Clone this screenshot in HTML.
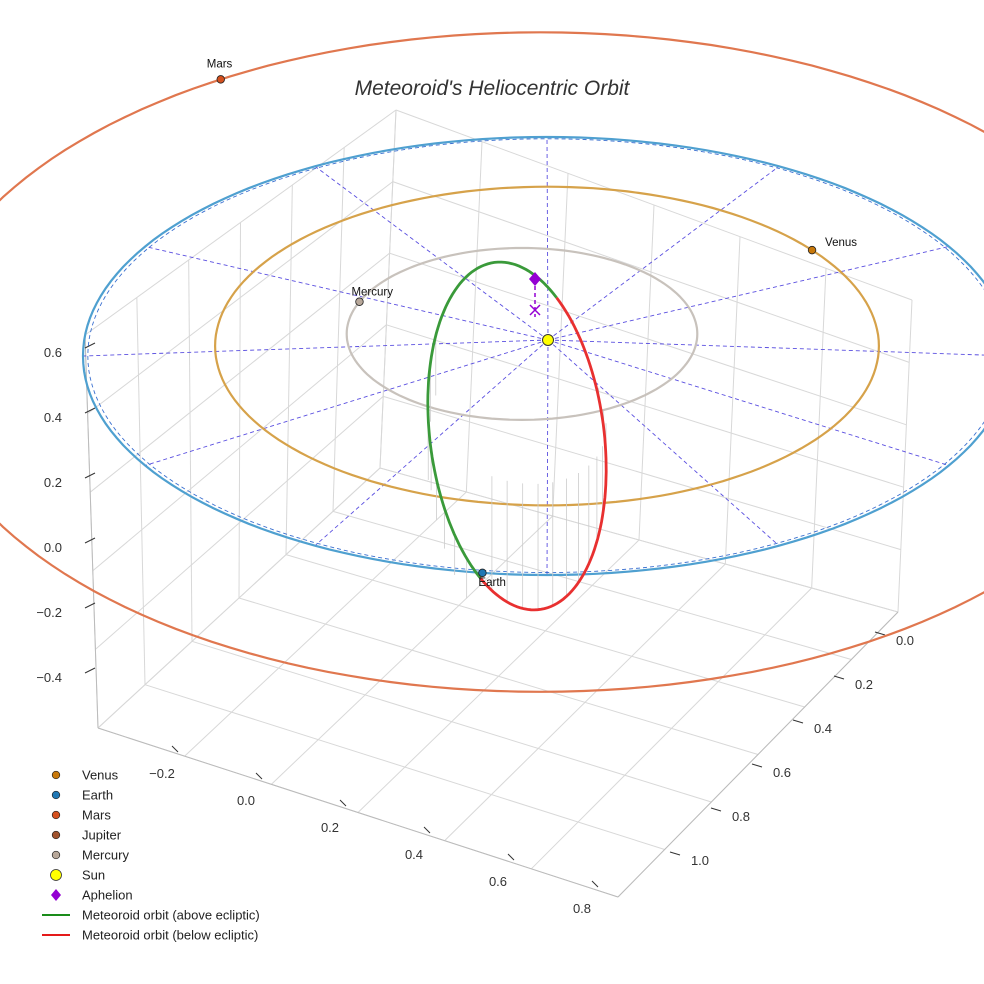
<!DOCTYPE html>
<html><head><meta charset="utf-8"><style>
html,body{margin:0;padding:0;background:#fff;}
svg{display:block;font-family:"Liberation Sans",sans-serif;}
</style></head><body>
<svg id="chart" width="984" height="984" viewBox="0 0 984 984" xmlns="http://www.w3.org/2000/svg">
<text x="492" y="95" text-anchor="middle" font-size="21" font-style="italic" fill="#333">Meteoroid's Heliocentric Orbit</text>
<g id="grid"></g>
<g id="marks"></g>
<g id="legend"></g>
</svg>
<script>
// ---- data ----
const planetNames = ["Venus","Earth","Mars","Jupiter","Mercury"];
const planetOrbitRadius = [0.723, 1.0, 1.524, 5.2, 0.387];
const planetAngleDeg = [-37, 98, -121, 0, -158];
const planetColors = ["#c8780a","#1f77b4","#d4501e","#a0522d","#b8a89a"];
const orbitColors = ["#d6a24a","#4fa0d0","#e0774f","#a0522d","#c8c2bc"];
const verticalTicks = [0.6,0.4,0.2,0.0,-0.2,-0.4];
const xTicks = [-0.2,0.0,0.2,0.4,0.6,0.8];
const yTicks = [0.0,0.2,0.4,0.6,0.8,1.0];
const meteoroidSemiMajor = [175];
const meteoroidSemiMinor = [87];
const meteoroidTiltDeg = [7.4];
const meteoroidNodeDeg = [139];
const meteoroidEarthDeg = [-39];
const aphelionHeight = [0.1];
const rayAnglesDeg = [0,30,60,90,120,150,180,210,240,270,300,330];

// ---- projection ----
const SUN = {x:548, y:340};
function cxOf(a){ return a<0.5 ? 522 : 547 - Math.max(0,a-1)*13; }
function cyOf(a){ return a<=1 ? 320+36*a : 356+11.5*(a-1); }
function rxOf(a){ return a<=1 ? 446+18*a : 464-108.8*(a-1); }
function ryOf(a){ return 224-5*a; }
function projOrbit(a, tDeg){
  const t=tDeg*Math.PI/180;
  return {x: cxOf(a) + rxOf(a)*a*Math.cos(t), y: cyOf(a) + ryOf(a)*a*Math.sin(t)};
}
function zToY(z){ return 547 - (z)*(547-352)/0.6; }
function xTickPos(v){ return {x:246 + (v)*(330-246)/0.2, y:805 + v*(832-805)/0.2}; }
function yTickPos(v){ return {x:905 - v*(905-864)/0.2, y:640 + v*(684-640)/0.2}; }

const NS="http://www.w3.org/2000/svg";
function el(tag, attrs, parent){
  const e=document.createElementNS(NS,tag);
  for(const k in attrs) e.setAttribute(k, attrs[k]);
  parent.appendChild(e); return e;
}
const grid=document.getElementById('grid');
const marks=document.getElementById('marks');
const legend=document.getElementById('legend');

// ---- panes / grid ----
const A={x:98,y:728}, B={x:618,y:897}, C={x:898,y:612}, D={x:380,y:468};
const At={x:85,y:335}, Dt={x:396,y:110}, Ct={x:912,y:300};
function lerp(p,q,f){return {x:p.x+(q.x-p.x)*f, y:p.y+(q.y-p.y)*f};}
function gl(p,q,c,w){ const l=el('line',{x1:p.x,y1:p.y,x2:q.x,y2:q.y,stroke:c||'#d8d8d8','stroke-width':w||1},grid);
  }
for(let i=0;i<=6;i++){ const f=i/6; gl(lerp(A,B,f),lerp(D,C,f)); gl(lerp(A,D,f),lerp(B,C,f)); }
for(let i=0;i<=6;i++){ const f=i/6; gl(lerp(A,D,f),lerp(At,Dt,f)); gl(lerp(D,C,f),lerp(Dt,Ct,f)); }
for(let i=0;i<=5;i++){ const f=i/5; gl(lerp(A,At,f),lerp(D,Dt,f)); gl(lerp(D,Dt,f),lerp(C,Ct,f)); }
gl(A,B,'#bbb'); gl(B,C,'#bbb'); gl(A,At,'#bbb');

// ---- tick labels ----
verticalTicks.forEach(v=>{
  const y=zToY(v);
  const t=el('text',{x:62,y:y+5,'text-anchor':'end','font-size':13,fill:'#333'},grid);
   
  t.textContent=(v<0?'\u2212'+Math.abs(v).toFixed(1):v.toFixed(1));
  const m=el('line',{x1:85,y1:y-4,x2:95,y2:y-9,stroke:'#333','stroke-width':1},grid);
   
});
xTicks.forEach(v=>{
  const p=xTickPos(v);
  const t=el('text',{x:p.x,y:p.y,'text-anchor':'middle','font-size':13,fill:'#333'},grid);
   
  t.textContent=(v<0?'\u2212'+Math.abs(v).toFixed(1):v.toFixed(1));
  const m=el('line',{x1:p.x+10,y1:p.y-32,x2:p.x+16,y2:p.y-26,stroke:'#333'},grid);
   
});
yTicks.forEach(v=>{
  const p=yTickPos(v);
  const t=el('text',{x:p.x,y:p.y+5,'text-anchor':'middle','font-size':13,fill:'#333'},grid);
   
  t.textContent=v.toFixed(1);
  const m=el('line',{x1:p.x-30,y1:p.y-8,x2:p.x-20,y2:p.y-5,stroke:'#333'},grid);
   
});

// ---- rays ----
rayAnglesDeg.forEach(a=>{
  const p=projOrbit(1.0,a);
  const l=el('line',{x1:SUN.x,y1:SUN.y,x2:p.x,y2:p.y,stroke:'#5a4fe0','stroke-width':0.9,'stroke-dasharray':'4,3'},marks);
   
});

// ---- orbits ----
function orbitPath(a){
  let d='';
  for(let t=0;t<=360;t+=2){const p=projOrbit(a,t); d+=(t?'L':'M')+p.x.toFixed(1)+','+p.y.toFixed(1);}
  return d+'Z';
}
planetNames.forEach((n,i)=>{
  if(n==='Jupiter') return;
  const o=el('path',{d:orbitPath(planetOrbitRadius[i]),fill:'none',stroke:orbitColors[i],'stroke-width':2.2},marks);
   
});
const eo=el('path',{d:orbitPath(0.99),fill:'none',stroke:'#3a6fd0','stroke-width':0.9,'stroke-dasharray':'4,3'},marks);
 

// ---- meteoroid orbit ----
const MC={x:517,y:436};
function met(tDeg){
  const t=tDeg*Math.PI/180, k=meteoroidTiltDeg[0]*Math.PI/180;
  const u={x:Math.sin(k),y:Math.cos(k)}, v={x:Math.cos(k),y:-Math.sin(k)};
  const a=meteoroidSemiMajor[0]*Math.cos(t), b=meteoroidSemiMinor[0]*Math.sin(t);
  return {x:MC.x+a*u.x+b*v.x, y:MC.y+a*u.y+b*v.y};
}
for(let t=meteoroidEarthDeg[0]-10; t>meteoroidNodeDeg[0]-360; t-=10){
  const p=met(t); if(p.y<330) continue;
  const l=el('line',{x1:p.x,y1:p.y,x2:p.x,y2:p.y+ (p.y<450?60:40),stroke:'#ccc','stroke-width':0.8},marks);
   
}
for(let t=meteoroidNodeDeg[0]-10; t>meteoroidEarthDeg[0]; t-=10){
  const p=met(t); if(p.y<380) continue;
  const l=el('line',{x1:p.x,y1:p.y,x2:p.x,y2:p.y-Math.max(10,(p.y-400)*0.6),stroke:'#ccc','stroke-width':0.8},marks);
   
}
function metPath(t0,t1){
  let d='', n=80;
  for(let i=0;i<=n;i++){const p=met(t0+(t1-t0)*i/n); d+=(i?'L':'M')+p.x.toFixed(1)+','+p.y.toFixed(1);}
  return d;
}
const g1=el('path',{d:metPath(meteoroidEarthDeg[0],meteoroidNodeDeg[0]-360),fill:'none',stroke:'#3a9a3a','stroke-width':2.8},marks);
 
const r1=el('path',{d:metPath(meteoroidNodeDeg[0],meteoroidEarthDeg[0]),fill:'none',stroke:'#e83030','stroke-width':2.8},marks);
 

// ---- aphelion ----
const apTop=zToY(0.6+aphelionHeight[0]*0)-73, apX=535;
const ad=el('line',{x1:apX,y1:apTop,x2:apX,y2:apTop+38,stroke:'#9400d3','stroke-width':1.5,'stroke-dasharray':'4,3'},marks);
 
const ax=el('path',{d:`M${apX-5},${apTop+26}L${apX+5},${apTop+36}M${apX+5},${apTop+26}L${apX-5},${apTop+36}`,stroke:'#9400d3','stroke-width':1.5},marks);
 
const am=el('path',{d:`M${apX},${apTop-7}L${apX+6},${apTop}L${apX},${apTop+7}L${apX-6},${apTop}Z`,fill:'#9400d3'},marks);
 

// ---- sun ----
const sun=el('circle',{cx:SUN.x,cy:SUN.y,r:5.5,fill:'#ffff00',stroke:'#333','stroke-width':1},marks);
 

// ---- planets ----
planetNames.forEach((n,i)=>{
  if(n==='Jupiter') return;
  const p=projOrbit(planetOrbitRadius[i],planetAngleDeg[i]);
  const c=el('circle',{cx:p.x,cy:p.y,r:3.8,fill:planetColors[i],stroke:'#222','stroke-width':0.8},marks);
   
  const off = n==='Earth'?{dx:-4,dy:13}: n==='Venus'?{dx:13,dy:-4}: n==='Mars'?{dx:-14,dy:-12}:{dx:-8,dy:-6};
  const t=el('text',{x:p.x+off.dx,y:p.y+off.dy,'font-size':11.5,fill:'#111'},marks);
   
  t.textContent=n;
});

// ---- legend ----
const legLabels=["Venus","Earth","Mars","Jupiter","Mercury","Sun","Aphelion","Meteoroid orbit (above ecliptic)","Meteoroid orbit (below ecliptic)"];
const legTypes=["dot","dot","dot","dot","dot","sun","diamond","line","line"];
const legColors=["#c8780a","#1f77b4","#d4501e","#a0522d","#b8a89a","#ffff00","#9400d3","#1a8c1a","#e41a1a"];
legLabels.forEach((lab,i)=>{
  const y=775+i*20, x=56;
  let m;
  if(legTypes[i]==='dot') m=el('circle',{cx:x,cy:y,r:3.8,fill:legColors[i],stroke:'#222','stroke-width':0.7},legend);
  else if(legTypes[i]==='sun') m=el('circle',{cx:x,cy:y,r:5.5,fill:legColors[i],stroke:'#333','stroke-width':0.8},legend);
  else if(legTypes[i]==='diamond') m=el('path',{d:`M${x},${y-6}L${x+5},${y}L${x},${y+6}L${x-5},${y}Z`,fill:legColors[i]},legend);
  else m=el('line',{x1:42,y1:y,x2:70,y2:y,stroke:legColors[i],'stroke-width':2},legend);
   
  const t=el('text',{x:82,y:y+4.5,'font-size':13,fill:'#222'},legend);
   
  t.textContent=lab;
});
</script>
</body></html>
